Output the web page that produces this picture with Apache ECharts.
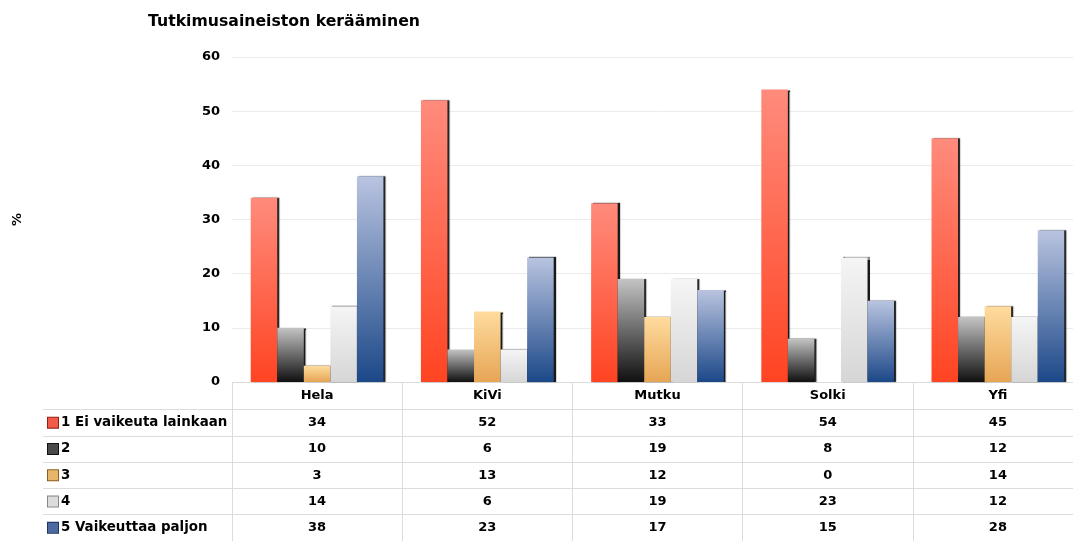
<!DOCTYPE html>
<html>
<head>
<meta charset="utf-8">
<script src="https://cdn.jsdelivr.net/npm/echarts@6/dist/echarts.min.js"></script>
<style>
html,body{margin:0;padding:0;background:#fff;overflow:hidden;width:1073px;height:541px;}
#main{width:1090px;height:541px;}
</style>
</head>
<body>
<div id="main"></div>
<script>
var title = 'Tutkimusaineiston kerääminen';
var categories = ['Hela', 'KiVi', 'Mutku', 'Solki', 'Yfi'];
var seriesNames = ['1 Ei vaikeuta lainkaan', '2', '3', '4', '5 Vaikeuttaa paljon'];
var s1 = [34, 52, 33, 54, 45];
var s2 = [10, 6, 19, 8, 12];
var s3 = [3, 13, 12, 0, 14];
var s4 = [14, 6, 19, 23, 12];
var s5 = [38, 23, 17, 15, 28];
var yTicks = [0, 10, 20, 30, 40, 50, 60];

var allSeries = [s1, s2, s3, s4, s5];
var topColors = ['#ff8b7c', '#c4c4c4', '#ffdc9e', '#f4f5f4', '#b9c4e0'];
var botColors = ['#ff4422', '#101010', '#e6a555', '#d6d6d6', '#1c4888'];
var iconColors = ['#f05a48', '#4a4a4a', '#e8b66a', '#dcdcdc', '#4d6aa0'];
var iconBorders = ['#902010', '#111111', '#8a6020', '#888888', '#1c3460'];

var FONT = "'DejaVu Sans', sans-serif";

var barSeries = allSeries.map(function (arr, i) {
  return {
    name: seriesNames[i],
    type: 'bar',
    xAxisIndex: 0,
    yAxisIndex: 0,
    data: arr,
    barGap: '0%',
    barCategoryGap: '22%',
    itemStyle: {
      color: {
        type: 'linear', x: 0, y: 0, x2: 0, y2: 1,
        colorStops: [
          {offset: 0, color: topColors[i]},
          {offset: 1, color: botColors[i]}
        ]
      },
      shadowColor: 'rgba(0,0,0,0.9)',
      shadowOffsetX: 2,
      shadowOffsetY: 0,
      shadowBlur: 1
    }
  };
});

var tableData = [];
allSeries.forEach(function (arr, r) {
  arr.forEach(function (v, c) { tableData.push([c, r, v]); });
});

var rich = {};
seriesNames.forEach(function (n, i) {
  rich['i' + i] = {width: 10, height: 10, backgroundColor: iconColors[i], borderColor: iconBorders[i], borderWidth: 1};
});
rich.t = {fontFamily: FONT, fontWeight: 'bold', fontSize: 13.4, color: '#000', padding: [0, 0, 0, 3]};

var option = {
  animation: false,
  backgroundColor: '#fff',
  title: {
    text: title,
    left: 143, top: 9,
    textStyle: {fontFamily: FONT, fontWeight: 'bold', fontSize: 15.7, color: '#000'}
  },
  grid: [
    {left: 232, top: 57, width: 851, height: 325},
    {left: 232, top: 409.5, width: 851, height: 137.5}
  ],
  xAxis: [
    {
      gridIndex: 0, type: 'category', data: categories,
      axisLine: {show: true, lineStyle: {color: '#dcdcdc'}},
      axisTick: {show: true, length: 27.5, interval: 0, lineStyle: {color: '#dcdcdc'}},
      axisLabel: {fontFamily: FONT, fontWeight: 'bold', fontSize: 13, color: '#000', margin: 7}
    },
    {
      gridIndex: 1, type: 'category', data: categories,
      axisLine: {show: false}, axisTick: {show: false}, axisLabel: {show: false},
      splitLine: {show: true, interval: 0, lineStyle: {color: '#dcdcdc'}}
    }
  ],
  yAxis: [
    {
      gridIndex: 0, type: 'value', min: yTicks[0], max: yTicks[yTicks.length - 1], interval: 10,
      name: '%', nameLocation: 'middle', nameGap: 208, nameRotate: 90,
      nameTextStyle: {fontFamily: FONT, fontWeight: 'bold', fontSize: 13, color: '#000'},
      axisLine: {show: false}, axisTick: {show: false},
      axisLabel: {fontFamily: FONT, fontWeight: 'bold', fontSize: 13, color: '#000', margin: 12},
      splitLine: {lineStyle: {color: '#ebebeb'}}
    },
    {
      gridIndex: 1, type: 'category', data: seriesNames, inverse: true,
      axisLine: {show: true, lineStyle: {color: '#dcdcdc'}},
      axisTick: {show: true, length: 189, interval: 0, lineStyle: {color: '#dcdcdc'}},
      splitLine: {show: true, interval: 0, lineStyle: {color: '#dcdcdc'}},
      axisLabel: {
        align: 'left', margin: 184, interval: 0,
        formatter: function (v, idx) { return '{i' + idx + '|}{t|' + v + '}'; },
        rich: rich
      }
    },
    {
      gridIndex: 1, type: 'category', data: seriesNames, inverse: true, offset: 189,
      axisLine: {show: true, lineStyle: {color: '#dcdcdc'}},
      axisTick: {show: false}, axisLabel: {show: false}, splitLine: {show: false}
    }
  ],
  series: barSeries.concat([{
    type: 'scatter',
    xAxisIndex: 1, yAxisIndex: 1,
    data: tableData,
    symbolSize: 1,
    itemStyle: {color: 'rgba(0,0,0,0)', opacity: 1},
    label: {
      show: true, position: 'inside',
      formatter: function (p) { return p.value[2]; },
      fontFamily: FONT, fontWeight: 'bold', fontSize: 13, color: '#000'
    },
    silent: true
  }])
};

var chart = echarts.init(document.getElementById('main'), null, {renderer: 'canvas'});
chart.setOption(option);
</script>
</body>
</html>
